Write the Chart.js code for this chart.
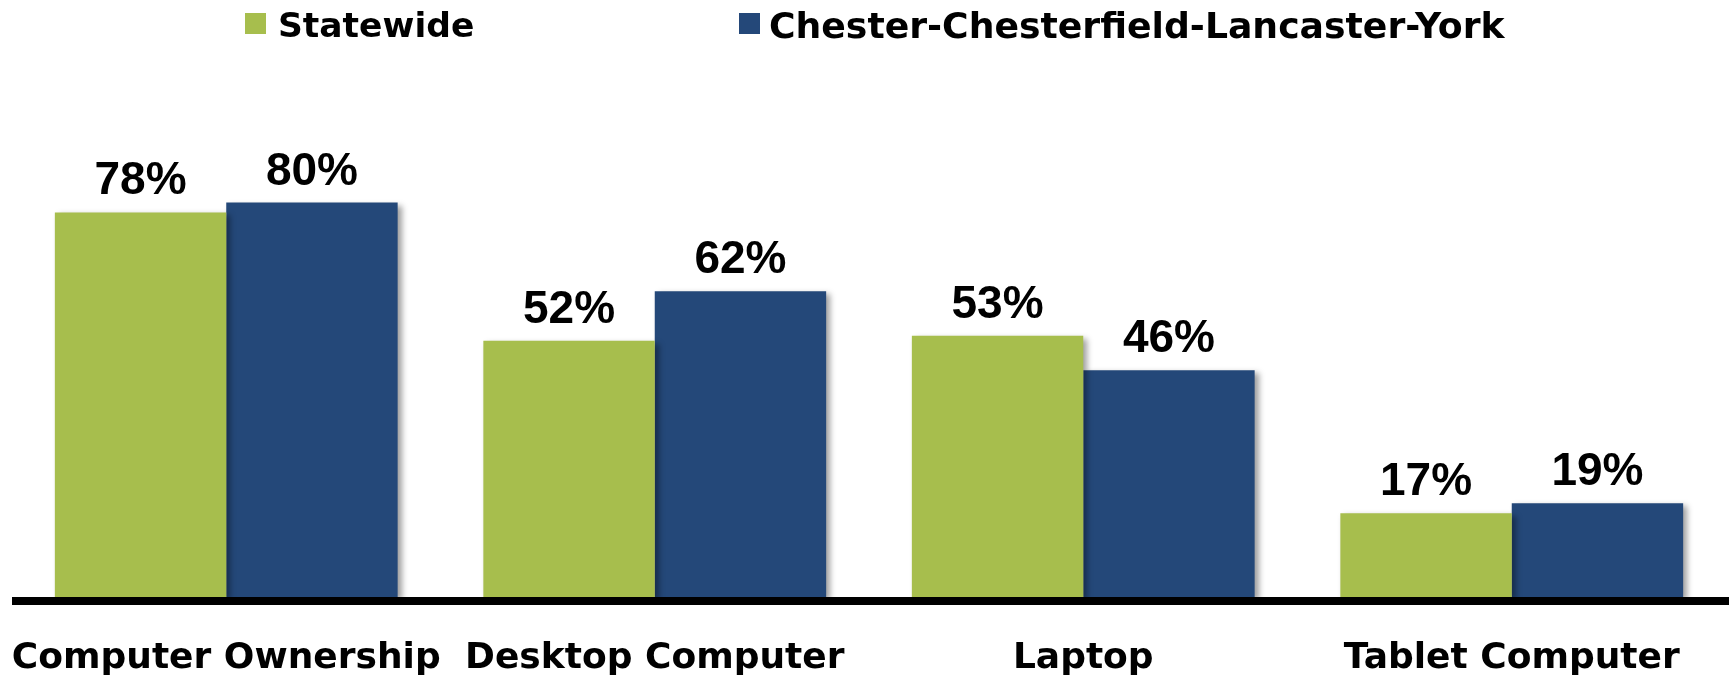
<!DOCTYPE html>
<html>
<head>
<meta charset="utf-8">
<script src="https://cdn.jsdelivr.net/npm/chart.js@4.4.1/dist/chart.umd.min.js"></script>
<style>
  html, body { margin: 0; padding: 0; background: #ffffff; overflow: hidden; }
  #wrap { position: relative; width: 1729px; height: 678px; }
  #legend { position: absolute; left: 0; top: 0; width: 1729px; height: 60px; pointer-events: none; }
  .lg-item { position: absolute; top: 0; height: 60px; }
  .lg-box { position: absolute; top: 13px; left: 0; width: 21px; height: 21px; }
  .lg-text { position: absolute; top: 7.7px; white-space: nowrap; font-family: "DejaVu Sans", sans-serif; font-weight: bold; line-height: 35px; color: #000; }
</style>
</head>
<body>
<div id="wrap">
  <canvas id="c"></canvas>
  <div id="legend"></div>
</div>
<script>
const categories = ['Computer Ownership', 'Desktop Computer', 'Laptop', 'Tablet Computer'];
const seriesNames = ['Statewide', 'Chester-Chesterfield-Lancaster-York'];
const statewide = [78, 52, 53, 17];
const regional = [80, 62, 46, 19];
const seriesColors = ['#A7BE4D', '#244879'];

// HTML legend (real text)
const legendEl = document.getElementById('legend');
const legendLeft = [245, 739];
const legendFontSize = [34.5, 36.2];
seriesNames.forEach((name, i) => {
  const item = document.createElement('div');
  item.className = 'lg-item';
  item.style.left = legendLeft[i] + 'px';
  const box = document.createElement('div');
  box.className = 'lg-box';
  box.style.background = seriesColors[i];
  const txt = document.createElement('div');
  txt.className = 'lg-text';
  txt.style.left = (i === 0 ? 33 : 30) + 'px';
  txt.style.fontSize = legendFontSize[i] + 'px';
  txt.textContent = name;
  item.appendChild(box);
  item.appendChild(txt);
  legendEl.appendChild(item);
});

const shadowPlugin = {
  id: 'barShadow',
  beforeDatasetsDraw(chart) {
    const ctx = chart.ctx;
    ctx.save();
    ctx.shadowColor = 'rgba(0,0,0,0.38)';
    ctx.shadowBlur = 6;
    ctx.shadowOffsetX = 4;
    ctx.shadowOffsetY = 3;
  },
  afterDatasetsDraw(chart) {
    chart.ctx.restore();
  }
};

const labelsPlugin = {
  id: 'valueLabels',
  afterDatasetsDraw(chart) {
    const ctx = chart.ctx;
    const area = chart.chartArea;
    // axis baseline
    ctx.save();
    ctx.fillStyle = '#000000';
    ctx.fillRect(12, area.bottom, chart.width - 12, 8);
    ctx.restore();
    // value labels
    ctx.save();
    ctx.font = 'bold 46px "Liberation Sans", Arial, sans-serif';
    ctx.fillStyle = '#000000';
    ctx.textAlign = 'center';
    ctx.textBaseline = 'alphabetic';
    chart.data.datasets.forEach((ds, di) => {
      const meta = chart.getDatasetMeta(di);
      meta.data.forEach((bar, i) => {
        ctx.fillText(ds.data[i] + '%', bar.x, bar.y - 18);
      });
    });
    ctx.restore();
  }
};

new Chart(document.getElementById('c'), {
  type: 'bar',
  data: {
    labels: categories,
    datasets: [
      { label: seriesNames[0], data: statewide, backgroundColor: seriesColors[0], borderWidth: 0 },
      { label: seriesNames[1], data: regional, backgroundColor: seriesColors[1], borderWidth: 0 }
    ]
  },
  options: {
    responsive: true,
    maintainAspectRatio: false,
    animation: false,
    events: [],
    layout: { padding: { top: 104, left: 12, right: 3, bottom: 0 } },
    datasets: { bar: { categoryPercentage: 0.8, barPercentage: 1.0 } },
    plugins: {
      legend: { display: false },
      tooltip: { enabled: false },
      title: { display: false }
    },
    scales: {
      x: {
        grid: { display: false },
        border: { display: false },
        ticks: {
          color: '#000000',
          padding: 32,
          maxRotation: 0,
          autoSkip: false,
          font: { family: '"DejaVu Sans", sans-serif', weight: 'bold', size: 36 }
        },
        afterFit(scale) {
          scale.height = 81;
          scale.paddingLeft = 0;
          scale.paddingRight = 0;
        }
      },
      y: {
        display: false,
        min: 0,
        max: 100,
        beginAtZero: true
      }
    }
  },
  plugins: [shadowPlugin, labelsPlugin]
});
</script>
</body>
</html>
